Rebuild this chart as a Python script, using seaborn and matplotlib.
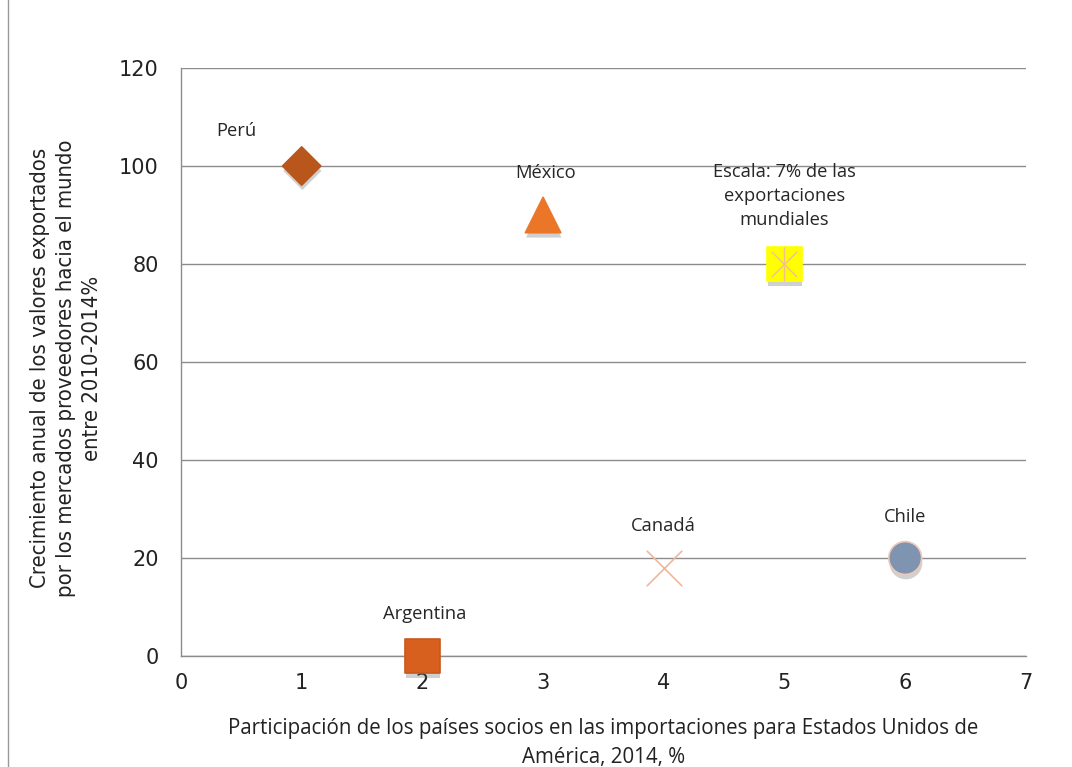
import pandas as pd
import numpy as np
import seaborn as sns
import matplotlib.pyplot as plt
import matplotlib.patheffects as pe
from matplotlib.lines import Line2D

paises = ["Perú", "México", "Escala", "Argentina", "Canadá", "Chile"]
participacion = [1, 3, 5, 2, 4, 6]
crecimiento = [100, 90, 80, 0, 18, 20]
etiquetas = ["Perú", "México", "Escala: 7% de las\nexportaciones\nmundiales", "Argentina", "Canadá", "Chile"]

df = pd.DataFrame({"pais": paises, "x": participacion, "y": crecimiento})

colores = {"Perú": "#B9561C", "México": "#EC7628", "Escala": "#FFFF00",
           "Argentina": "#D7601E", "Canadá": "#F5B496", "Chile": "#7E94B0"}
marcas = {"Perú": "D", "México": "^", "Escala": "s", "Argentina": "s", "Canadá": "x", "Chile": "o"}
tamanos = {"Perú": 380, "México": 650, "Escala": 620, "Argentina": 620, "Canadá": 650, "Chile": 560}
bordes = {"Perú": "#B9561C", "México": "#EC7628", "Escala": "#FFFF00",
          "Argentina": "#C8581C", "Canadá": "#F5B496", "Chile": "#EFC9B8"}
# label offsets (data units) relative to each point, text centred
desp = {"Perú": (-0.54, 7.1), "México": (0.02, 8.6), "Escala": (0, 13.9),
        "Argentina": (0.02, 8.6), "Canadá": (0, 8.5), "Chile": (0, 8.4)}

sns.set_style("white")
plt.rcParams['font.family'] = ['Open Sans', 'DejaVu Sans']

fig = plt.figure(figsize=(10.72, 7.67), dpi=100)
ax = fig.add_axes([0.1688, 0.1447, 0.7882, 0.7666])

ax.yaxis.grid(True, color="#8C8C8C", linewidth=1)
ax.set_axisbelow(True)

sombra = [pe.SimplePatchShadow(offset=(0.5, -3.5), shadow_rgbFace="#666666", alpha=0.3), pe.Normal()]
for p in paises:
    sub = df[df["pais"] == p]
    sns.scatterplot(data=sub, x="x", y="y", marker=marcas[p], s=tamanos[p],
                    color=colores[p], edgecolor=bordes[p] if p != "Canadá" else None,
                    linewidth=1.2, ax=ax, legend=False, zorder=3, clip_on=False)
    if p != "Canadá":
        ax.collections[-1].set_path_effects(sombra)
    else:
        ax.collections[-1].set_linewidth(1.2)

# lines inside the yellow scale square
esc = df[df["pais"] == "Escala"]
ax.scatter(esc["x"], esc["y"], marker="x", s=330, color="#F4C08A", linewidth=1, zorder=4)
ax.scatter(esc["x"], esc["y"], marker="|", s=620, color="#F4C08A", linewidth=1, zorder=4)

for p, lab, x, y in zip(paises, etiquetas, participacion, crecimiento):
    dx, dy = desp[p]
    ax.text(x + dx, y + dy, lab, ha="center", va="center", fontsize=13.2,
            color="#262626", linespacing=1.45)

ax.set_xlim(0, 7)
ax.set_ylim(0, 120)
ax.set_xticks(range(0, 8))
ax.set_yticks(range(0, 121, 20))
ax.tick_params(axis="both", labelsize=15, colors="#8C8C8C", direction="out",
               length=6, width=1, labelcolor="#222222")
for lbl in ax.get_xticklabels() + ax.get_yticklabels():
    lbl.set_family(["Verdana", "DejaVu Sans"])
ax.tick_params(axis="y", pad=10)
ax.tick_params(axis="x", pad=6)

for s in ["top", "right"]:
    ax.spines[s].set_visible(False)
for s in ["left", "bottom"]:
    ax.spines[s].set_color("#8C8C8C")
    ax.spines[s].set_linewidth(1)

ax.set_xlabel("Participación de los países socios en las importaciones para Estados Unidos de\nAmérica, 2014, %",
              fontsize=14.8, color="#222222", labelpad=18, linespacing=1.5)
ax.set_ylabel("Crecimiento anual de los valores exportados\npor los mercados proveedores hacia el mundo\nentre 2010-2014%",
              fontsize=15.8, color="#222222", linespacing=1.4,
              family="DejaVu Sans", fontstretch="condensed")
ax.yaxis.label.set_va("center")
ax.yaxis.set_label_coords(-0.136, 0.49)

fig.add_artist(Line2D([0.0075, 0.0075], [0.0, 1.0], color="#999999", linewidth=1))

plt.savefig("out.png", dpi=100)
